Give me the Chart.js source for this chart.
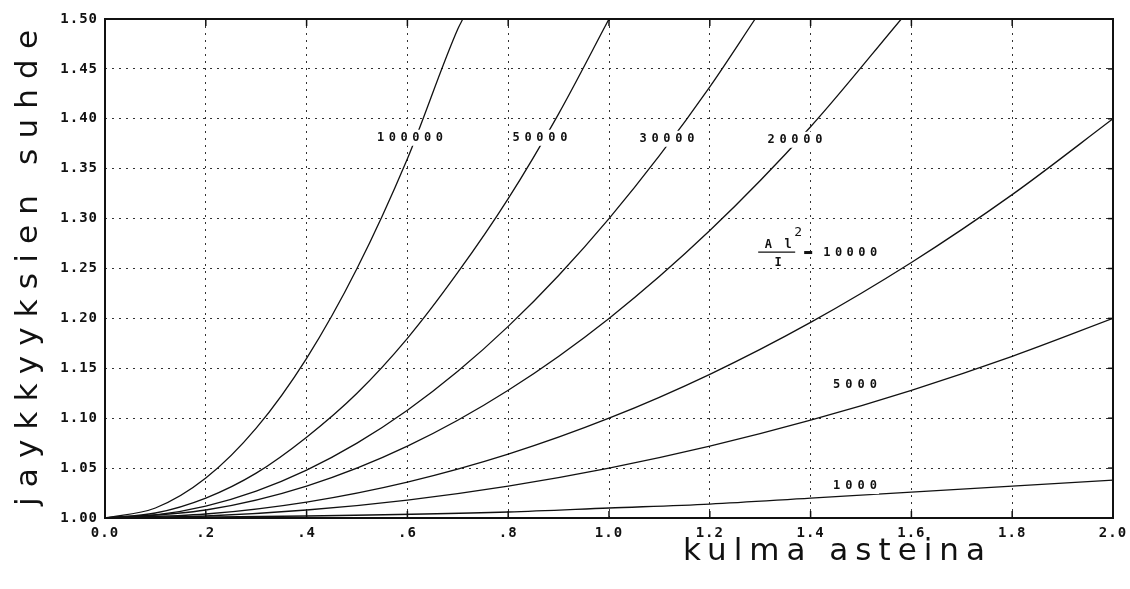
<!DOCTYPE html>
<html><head><meta charset="utf-8">
<script src="https://cdn.jsdelivr.net/npm/chart.js@4/dist/chart.umd.min.js"></script>
<style>html,body{margin:0;padding:0;background:#fff}#wrap{width:1130px;height:589px}</style>
</head><body><div id="wrap"><canvas id="c" width="1130" height="589"></canvas></div>
<script>
// ---- data: [angle, stiffness ratio] ----
const curve100000 = [[0,1.000],[0.1,1.010],[0.2,1.040],[0.3,1.090],[0.4,1.160],[0.5,1.250],[0.6,1.360],[0.7,1.490],[0.71,1.500]];
const curve50000  = [[0,1.000],[0.1,1.005],[0.2,1.020],[0.3,1.045],[0.4,1.081],[0.5,1.125],[0.6,1.180],[0.7,1.246],[0.8,1.320],[0.9,1.405],[1.0,1.500]];
const curve30000  = [[0,1.000],[0.1,1.003],[0.2,1.012],[0.3,1.027],[0.4,1.048],[0.5,1.075],[0.6,1.108],[0.7,1.147],[0.8,1.192],[0.9,1.243],[1.0,1.300],[1.1,1.363],[1.2,1.432],[1.29,1.500]];
const curve20000  = [[0,1.000],[0.2,1.008],[0.4,1.032],[0.6,1.072],[0.8,1.128],[1.0,1.200],[1.2,1.288],[1.4,1.392],[1.58,1.500]];
const curve10000  = [[0,1.000],[0.2,1.004],[0.4,1.016],[0.6,1.036],[0.8,1.064],[1.0,1.100],[1.2,1.144],[1.4,1.196],[1.6,1.256],[1.8,1.324],[2.0,1.400]];
const curve5000   = [[0,1.000],[0.2,1.002],[0.4,1.008],[0.6,1.018],[0.8,1.032],[1.0,1.050],[1.2,1.072],[1.4,1.098],[1.6,1.128],[1.8,1.162],[2.0,1.200]];
const curve1000   = [[0,1.000],[0.4,1.002],[0.8,1.006],[1.0,1.010],[1.2,1.014],[1.4,1.020],[1.6,1.026],[1.8,1.032],[2.0,1.038]];
const seriesNames = ['100000','50000','30000','20000','10000','5000','1000'];
const xTickValues = [0,0.2,0.4,0.6,0.8,1.0,1.2,1.4,1.6,1.8,2.0];
const xTickLabels = ['0.0','.2','.4','.6','.8','1.0','1.2','1.4','1.6','1.8','2.0'];
const yTickLabels = ['1.00','1.05','1.10','1.15','1.20','1.25','1.30','1.35','1.40','1.45','1.50'];
const xTitle = 'kulma asteina';
const yTitle = 'jaykkyyksien suhde';
// curve label anchors (data coordinates)
const labelAnchors = {'100000':[0.605,1.381],'50000':[0.863,1.381],'30000':[1.115,1.380],'20000':[1.369,1.379],'5000':[1.488,1.133],'1000':[1.488,1.032]};
const fractionAnchor = [1.296,1.2665];

const curves = [curve100000,curve50000,curve30000,curve20000,curve10000,curve5000,curve1000];
const datasets = curves.map((c,i)=>({
  label: seriesNames[i],
  data: c.map(p=>({x:p[0],y:p[1]})),
  borderColor:'#111', borderWidth:1.3, pointRadius:0, fill:false,
  cubicInterpolationMode:'monotone'
}));

const MONO = '"DejaVu Sans Mono", "Liberation Mono", monospace';

function spacedText(ctx, text, x, y, targetW){
  const n = text.length;
  ctx.letterSpacing = '0px';
  const w = ctx.measureText(text).width;
  const ls = n > 1 ? (targetW - w)/(n-1) : 0;
  ctx.letterSpacing = ls + 'px';
  ctx.textAlign = 'left';
  ctx.fillText(text, x - (n > 1 ? targetW : w)/2, y);
  ctx.letterSpacing = '0px';
}

const overlay = {
  id:'overlay',
  beforeDraw(chart){ chart.ctx.letterSpacing = '1px'; },
  afterDraw(chart){
    const ctx = chart.ctx, a = chart.chartArea, xs = chart.scales.x, ys = chart.scales.y;
    ctx.save();
    ctx.letterSpacing = '0px';
    // frame
    ctx.strokeStyle = '#111'; ctx.lineWidth = 2;
    ctx.strokeRect(a.left, a.top, a.right-a.left, a.bottom-a.top);
    // inward ticks
    ctx.lineWidth = 1.5;
    xTickValues.forEach(v=>{
      const px = xs.getPixelForValue(v);
      ctx.beginPath(); ctx.moveTo(px,a.bottom); ctx.lineTo(px,a.bottom-7);
      ctx.moveTo(px,a.top); ctx.lineTo(px,a.top+7); ctx.stroke();
    });
    yTickLabels.forEach(t=>{
      const py = ys.getPixelForValue(parseFloat(t));
      ctx.beginPath(); ctx.moveTo(a.right,py); ctx.lineTo(a.right-5,py); ctx.stroke();
    });
    // curve labels
    ctx.fillStyle = '#111';
    ctx.font = 'bold 12px ' + MONO;
    ctx.textBaseline = 'middle';
    Object.keys(labelAnchors).forEach(k=>{
      const p = labelAnchors[k];
      const tw = k.length*11;
      ctx.fillStyle = '#fff';
      ctx.fillRect(xs.getPixelForValue(p[0])-tw/2-2, ys.getPixelForValue(p[1])-8, tw+4, 16);
      ctx.fillStyle = '#111';
      spacedText(ctx, k, xs.getPixelForValue(p[0]), ys.getPixelForValue(p[1]), tw);
    });
    // fraction label A l^2 / I = 10000
    const fx = xs.getPixelForValue(fractionAnchor[0]), fy = ys.getPixelForValue(fractionAnchor[1]);
    spacedText(ctx, 'A l', fx+20, fy-7, 27);
    ctx.font = '13px ' + MONO; ctx.textAlign='center'; ctx.fillText('2', fx+40, fy-19);
    ctx.lineWidth = 1.3; ctx.beginPath(); ctx.moveTo(fx,fy); ctx.lineTo(fx+37,fy); ctx.stroke();
    ctx.font = 'bold 12px ' + MONO;
    spacedText(ctx, 'I', fx+20, fy+11, 8);
    ctx.fillRect(fx+46, fy-1, 8, 3);
    spacedText(ctx, '10000', fx+92, fy+1, 54);
    // axis titles
    ctx.font = '31px "DejaVu Sans", sans-serif';
    ctx.textBaseline = 'middle';
    spacedText(ctx, xTitle, 834, 552, 302);
    ctx.translate(29, 268); ctx.rotate(-Math.PI/2);
    spacedText(ctx, yTitle, 0, 0, 476);
    ctx.restore();
  }
};

new Chart(document.getElementById('c'), {
  type:'line',
  data:{datasets},
  options:{
    responsive:false, animation:false, devicePixelRatio:1,
    layout:{padding:{top:19,right:17,left:0,bottom:0}},
    plugins:{legend:{display:false}, tooltip:{enabled:false}},
    scales:{
      x:{type:'linear', min:0, max:2, 
        afterFit(s){ s.height = 71; s.paddingLeft = 0; s.paddingRight = 0; },
        afterBuildTicks(s){ s.ticks = xTickValues.map(v=>({value:v})); },
        ticks:{callback:(v,i)=>xTickLabels[i], color:'#111', font:{family:MONO, size:14, weight:'bold'}, padding:7, maxRotation:0, autoSkip:false},
        grid:{color:'#333', lineWidth:1, drawTicks:false},
        border:{display:false, dash:[2,5]}
      },
      y:{type:'linear', min:1.0, max:1.5,
        afterFit(s){ s.width = 105; s.paddingTop = 0; s.paddingBottom = 0; },
        afterBuildTicks(s){ s.ticks = yTickLabels.map(t=>({value:parseFloat(t)})); },
        ticks:{callback:(v,i)=>yTickLabels[i], color:'#111', font:{family:MONO, size:14, weight:'bold'}, padding:7, autoSkip:false},
        grid:{color:'#333', lineWidth:1, drawTicks:false},
        border:{display:false, dash:[2,5]}
      }
    }
  },
  plugins:[overlay]
});
</script></body></html>
